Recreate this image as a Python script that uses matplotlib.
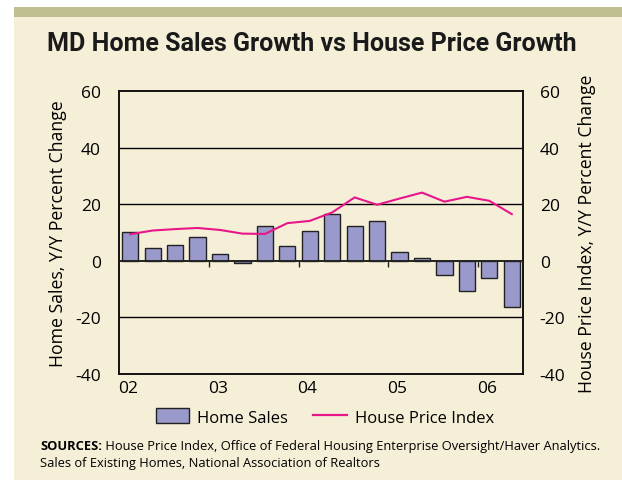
import matplotlib
matplotlib.use("Agg")
import matplotlib.pyplot as plt
from matplotlib.patches import Rectangle, Patch
from matplotlib.lines import Line2D
import numpy as np

# ---------------------------------------------------------------------------
# Data: quarterly, 2002Q1 .. 2006Q2, Y/Y percent change
# ---------------------------------------------------------------------------
QUARTERS = ["02Q1", "02Q2", "02Q3", "02Q4", "03Q1", "03Q2", "03Q3", "03Q4",
            "04Q1", "04Q2", "04Q3", "04Q4", "05Q1", "05Q2", "05Q3", "05Q4",
            "06Q1", "06Q2"]
HOME_SALES = [10.2, 4.4, 5.5, 8.5, 2.4, -0.8, 12.2, 5.2, 10.5, 16.7,
              12.2, 13.9, 3.2, 1.1, -4.9, -10.7, -6.2, -16.4]
HPI = [9.4, 10.7, 11.2, 11.6, 10.9, 9.6, 9.5, 13.3, 14.1, 17.1,
       22.4, 19.8, 22.0, 24.1, 20.9, 22.6, 21.2, 16.5]
YEAR_LABELS = ["02", "03", "04", "05", "06"]
Y_TICKS = [-40, -20, 0, 20, 40, 60]

CREAM = "#F5EFD8"
OLIVE = "#BFBF90"
BAR_C = "#9999CC"
LINE_C = "#E8168A"
FONT = "Open Sans"

fig = plt.figure(figsize=(6.22, 4.81), dpi=100, facecolor="white")
fig.patches.append(Rectangle((14 / 622, 0.0), 1, 473 / 481,
                             transform=fig.transFigure, facecolor=CREAM,
                             edgecolor="none", zorder=-2))
fig.patches.append(Rectangle((14 / 622, 463 / 481), 1, 10 / 481,
                             transform=fig.transFigure, facecolor=OLIVE,
                             edgecolor="none", zorder=-1))

ax = fig.add_axes([119 / 622, 106 / 481, 404 / 622, 283 / 481])
ax.set_facecolor(CREAM)
x = np.arange(len(QUARTERS))

ax.bar(x, HOME_SALES, width=0.72, color=BAR_C, edgecolor="#222222",
       linewidth=1.0, zorder=3)

ax.set_xlim(-0.5, len(QUARTERS) - 0.5)
ax.set_ylim(-40, 60)
for g in [-20, 20, 40]:
    ax.axhline(g, color="black", lw=1.0, zorder=1)
ax.axhline(0, color="#222222", lw=1.4, zorder=3.5)

# year boundary tick marks on the zero line
bounds = np.arange(4, len(QUARTERS), 4) - 0.5
ax.vlines(bounds, -2.2, 0, color="#222222", lw=1.0, zorder=3.5)

ax.set_xticks(np.arange(0, len(QUARTERS), 4) - 0.1)
ax.set_xticklabels(YEAR_LABELS, fontsize=12.5, family=FONT)
ax.tick_params(axis="x", length=0, pad=4)

ax.set_yticks(Y_TICKS)
ax.set_yticklabels([str(t) for t in Y_TICKS], fontsize=12.5, family=FONT)
ax.tick_params(axis="y", length=0, pad=13)
for s in ax.spines.values():
    s.set_linewidth(1.4)
    s.set_color("#111111")
ax.set_ylabel("Home Sales, Y/Y Percent Change", fontsize=12.7, family=FONT,
              labelpad=6)

ax2 = ax.twinx()
ax2.set_ylim(-40, 60)
ax2.plot(x, HPI, color=LINE_C, lw=1.5, zorder=4)
ax2.set_yticks(Y_TICKS)
ax2.set_yticklabels([str(t) for t in Y_TICKS], fontsize=12.5, family=FONT)
ax2.tick_params(axis="y", length=0, pad=12)
for s in ax2.spines.values():
    s.set_visible(False)
ax2.set_ylabel("House Price Index, Y/Y Percent Change", fontsize=12.7,
               family=FONT, labelpad=9)

fig.text(312 / 622, 437 / 481, "MD Home Sales Growth vs House Price Growth",
         ha="center", va="center", fontsize=18, fontweight="bold",
         family="Roboto", color="#1a1a1a")

handles = [Patch(facecolor=BAR_C, edgecolor="#222222", lw=1.0),
           Line2D([0], [0], color=LINE_C, lw=1.6)]
fig.legend(handles, ["Home Sales", "House Price Index"],
           loc="center", bbox_to_anchor=(325 / 622, 63 / 481), ncol=2,
           frameon=False, prop={"family": FONT, "size": 12},
           handlelength=2.0, handleheight=1.0, columnspacing=1.5,
           handletextpad=0.5)

src = fig.text(40 / 622, 31 / 481, "SOURCES:", fontsize=9.25,
               fontweight="bold", family=FONT, va="baseline", ha="left")
fig.add_artist(matplotlib.text.Annotation(
    " House Price Index, Office of Federal Housing Enterprise Oversight/Haver Analytics.",
    xy=(1, 0), xycoords=src, va="bottom", ha="left",
    fontsize=9.25, family=FONT))
fig.text(40 / 622, 14 / 481, "Sales of Existing Homes, National Association of Realtors",
         fontsize=9.25, family=FONT, va="baseline", ha="left")

fig.savefig("out.png", dpi=100, facecolor="white")
